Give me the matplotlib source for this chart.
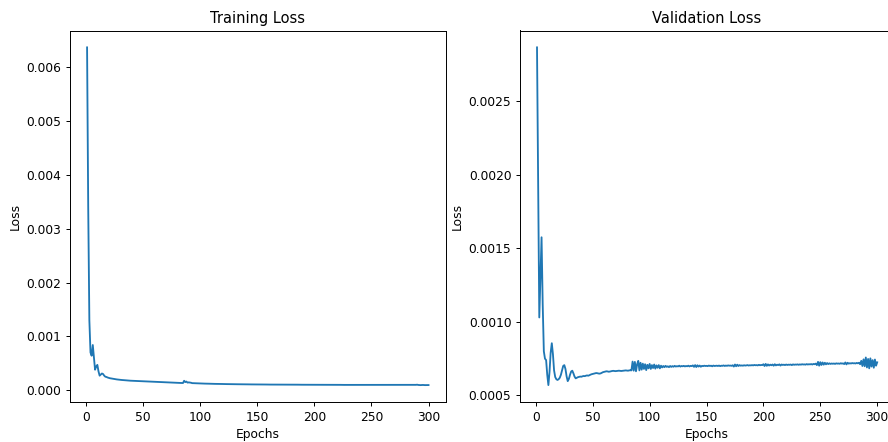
from matplotlib import pyplot as plt
import numpy as np

# loss values, in units of 1e-6
train_loss_1e6 = [
    6370, 3400, 1300, 700, 640, 840, 600, 380, 440, 470,
    350, 270, 290, 310, 300, 270, 250, 245, 235, 228,
    222, 218, 214, 210, 206, 203, 200, 197, 194, 192,
    190, 188, 186, 184, 182, 181, 179, 178, 176, 175,
    174, 172, 171, 170, 169, 168, 167, 166, 165, 164,
    163, 162, 161, 160, 159, 158, 157, 156, 155, 154,
    153, 152, 151, 150, 149, 148, 147, 146, 145, 145,
    144, 143, 142, 141, 140, 139, 139, 138, 137, 136,
    136, 135, 134, 134, 133, 175, 150, 160, 140, 145,
    142, 138, 131, 130, 129, 128, 127, 126, 126, 125,
    124, 124, 123, 122, 122, 121, 120, 120, 119, 119,
    118, 118, 117, 117, 116, 116, 115, 115, 115, 114,
    114, 113, 113, 113, 112, 112, 112, 111, 111, 111,
    110, 110, 110, 110, 109, 109, 109, 109, 108, 108,
    108, 108, 107, 107, 107, 107, 107, 106, 106, 106,
    106, 106, 105, 105, 105, 105, 105, 105, 104, 104,
    104, 104, 104, 104, 104, 103, 103, 103, 103, 103,
    103, 103, 103, 103, 104, 105, 103, 102, 102, 102,
    102, 102, 102, 102, 102, 102, 101, 101, 101, 101,
    101, 101, 101, 101, 101, 101, 100, 100, 100, 100,
    100, 100, 100, 100, 100, 101, 100, 100, 100, 99,
    99, 99, 99, 99, 99, 99, 100, 101, 99, 99,
    99, 99, 99, 98, 98, 98, 98, 98, 98, 98,
    98, 98, 98, 98, 98, 98, 98, 97, 97, 97,
    97, 97, 97, 97, 97, 97, 97, 97, 97, 98,
    99, 98, 97, 97, 97, 97, 97, 97, 96, 96,
    96, 96, 96, 96, 96, 96, 96, 96, 96, 96,
    96, 96, 96, 96, 96, 96, 96, 96, 96, 96,
    96, 96, 96, 96, 96, 96, 96, 97, 99, 102,
    97, 95, 94, 96, 97, 95, 94, 95, 95, 95,
]

val_loss_1e6 = [
    2866, 1950, 1030, 1300, 1575, 1120, 800, 750, 740, 640,
    570, 660, 790, 855, 780, 670, 625, 610, 605, 610,
    620, 640, 670, 700, 706, 680, 630, 597, 612, 640,
    662, 668, 650, 628, 616, 620, 624, 626, 628, 627,
    630, 632, 631, 634, 636, 634, 637, 641, 644, 646,
    648, 650, 652, 651, 649, 648, 650, 654, 658, 660,
    662, 664, 663, 661, 662, 664, 666, 667, 666, 665,
    666, 667, 668, 667, 666, 667, 668, 669, 670, 669,
    668, 670, 671, 670, 730, 668, 728, 664, 712, 735,
    670, 722, 675, 716, 680, 712, 672, 708, 684, 714,
    680, 706, 686, 710, 682, 704, 688, 706, 684, 702,
    690, 700, 692, 701, 694, 698, 692, 700, 694, 699,
    695, 701, 696, 699, 697, 702, 696, 700, 698, 701,
    697, 700, 698, 702, 697, 701, 699, 704, 694, 706,
    693, 705, 696, 703, 695, 701, 699, 702, 700, 701,
    699, 703, 700, 702, 698, 703, 700, 701, 702, 700,
    703, 699, 702, 701, 704, 700, 703, 701, 704, 702,
    703, 701, 705, 696, 710, 698, 709, 700, 706, 702,
    704, 702, 705, 703, 704, 706, 703, 705, 704, 706,
    704, 707, 705, 706, 704, 708, 705, 707, 706, 712,
    700, 714, 701, 711, 703, 709, 705, 710, 702, 712,
    704, 709, 706, 711, 703, 710, 707, 709, 706, 710,
    707, 709, 708, 710, 706, 711, 708, 710, 709, 711,
    708, 711, 709, 712, 710, 711, 709, 713, 710, 712,
    711, 713, 710, 714, 712, 716, 706, 728, 702, 726,
    707, 724, 709, 722, 711, 720, 713, 718, 714, 717,
    715, 717, 714, 718, 716, 717, 715, 719, 716, 718,
    713, 724, 711, 722, 716, 719, 717, 720, 718, 719,
    717, 721, 718, 722, 712, 735, 700, 745, 698, 758,
    690, 748, 684, 752, 696, 740, 688, 744, 702, 725,
]

train_loss = np.array(train_loss_1e6) * 1e-6
val_loss = np.array(val_loss_1e6) * 1e-6
epochs = np.arange(1, len(train_loss) + 1)

W, H = 888, 442
fig = plt.figure(figsize=(W / 88, H / 88), dpi=88)
ax1 = fig.add_axes([70 / W, 40 / H, 375.6 / W, 371.5 / H])
ax2 = fig.add_axes([520 / W, 40 / H, 374.2 / W, 371.5 / H])

ax1.plot(epochs, train_loss)
ax1.set_title('Training Loss')
ax1.set_xlabel('Epochs')
ax1.set_ylabel('Loss')

ax2.plot(np.arange(1, len(val_loss) + 1), val_loss)
ax2.set_title('Validation Loss')
ax2.set_xlabel('Epochs')
ax2.set_ylabel('Loss')

fig.savefig('out.png', dpi=88)
